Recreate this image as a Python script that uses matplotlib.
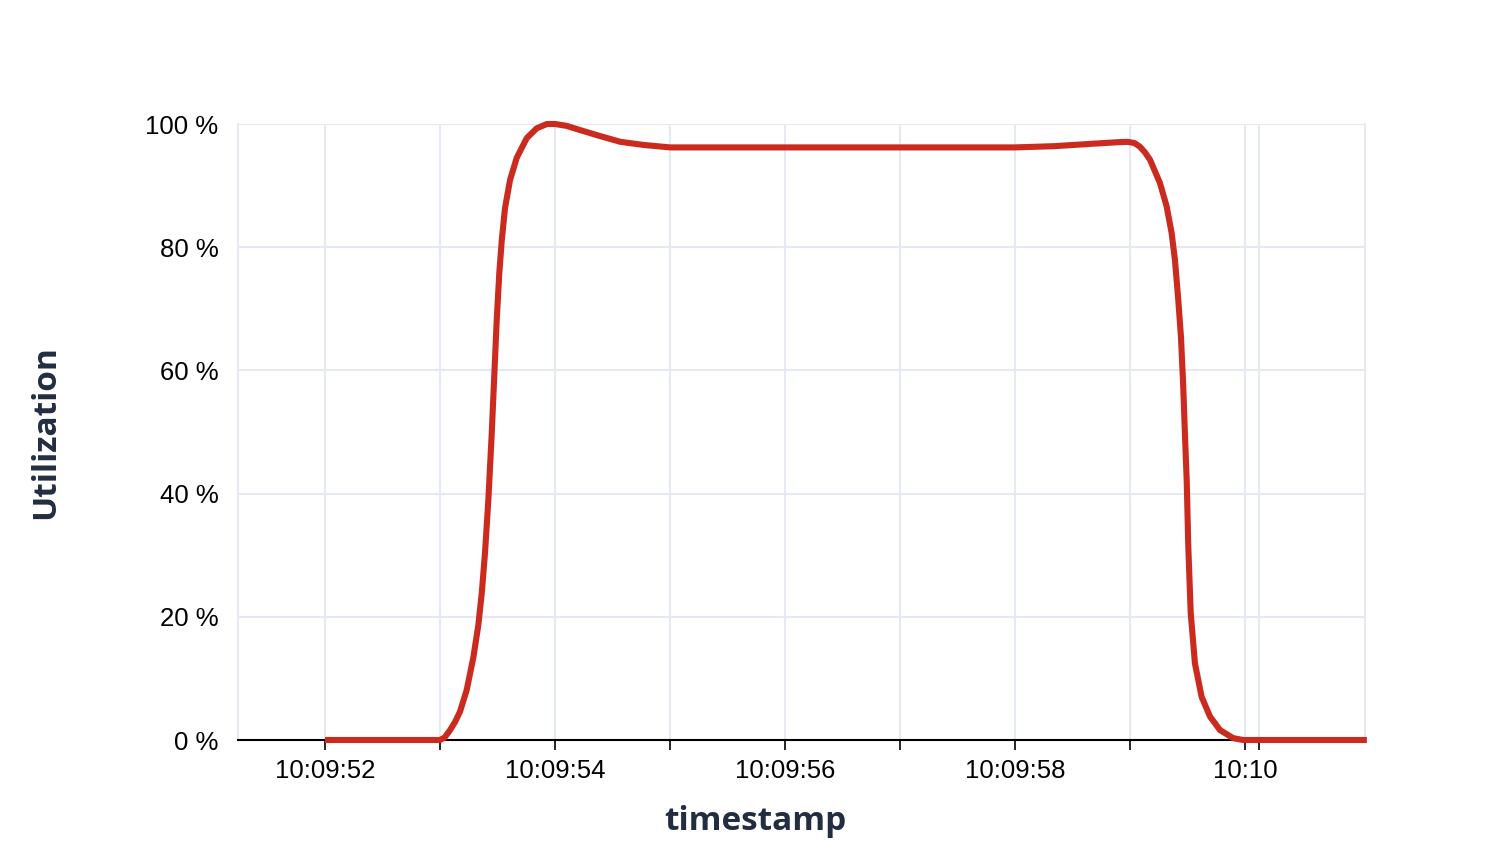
import matplotlib
matplotlib.use('Agg')
import matplotlib.pyplot as plt

# 시간축: 10:09:00 기준 초 (60 이상은 10:10)
time_sec = [52.0, 53.0, 53.04, 53.087, 53.13, 53.174, 53.232, 53.29, 53.333, 53.363,
            53.391, 53.42, 53.45, 53.47, 53.493, 53.516, 53.537, 53.565, 53.609,
            53.667, 53.754, 53.841, 53.93, 54.0, 54.1, 54.22, 54.40, 54.57, 54.77,
            55.0, 56.0, 57.0, 58.0, 58.34, 58.68, 58.9, 58.98, 59.04, 59.087,
            59.13, 59.174, 59.261, 59.319, 59.362, 59.391, 59.42, 59.443, 59.463,
            59.478, 59.493, 59.507, 59.528, 59.565, 59.623, 59.696, 59.783,
            59.898, 59.983, 61.06]
util_pct = [0, 0, 0.4, 1.6, 2.9, 4.6, 8.1, 13.4, 18.6, 23.8,
            30.3, 38.8, 49.8, 58.3, 68.1, 75.9, 81.1, 86.3, 90.9,
            94.5, 97.7, 99.3, 100, 100, 99.7, 99.0, 98.0, 97.1, 96.6,
            96.2, 96.2, 96.2, 96.2, 96.4, 96.8, 97.05, 97.1, 96.9, 96.3,
            95.4, 94.2, 90.4, 86.6, 82.3, 77.9, 71.4, 65.5, 57.4,
            49.5, 42.2, 31.4, 20.6, 12.4, 7.0, 3.8, 1.6,
            0.3, 0, 0]

major_ticks = [52, 54, 56, 58, 60]
major_labels = ['10:09:52', '10:09:54', '10:09:56', '10:09:58', '10:10']
minor_ticks = [53, 55, 57, 59, 60.124]
y_ticks = [0, 20, 40, 60, 80, 100]

grid_color = '#E6E9F3'
title_color = '#232D42'

fig = plt.figure(figsize=(15.06, 8.64), dpi=100)
ax = fig.add_axes([238 / 1506, 1 - 740 / 864, (1365 - 238) / 1506, (740 - 124) / 864])

ax.plot(time_sec, util_pct, color='#CB2B1F', lw=4.4, solid_capstyle='butt',
        solid_joinstyle='round', clip_on=False, zorder=5)

ax.set_xlim(51.2435, 61.0435)
ax.set_ylim(0, 100)

ax.set_xticks(major_ticks)
ax.set_xticklabels(major_labels, fontfamily='Liberation Sans', fontsize=18.5)
ax.set_xticks(minor_ticks, minor=True)
ax.tick_params(axis='x', which='both', direction='out', length=7, width=1.2,
               color='black', pad=7)
ax.set_yticks(y_ticks)
ax.set_yticklabels([f'{v} %' for v in y_ticks], fontfamily='Liberation Sans', fontsize=18.5)
ax.tick_params(axis='y', length=0, pad=14)

ax.grid(True, which='both', axis='x', color=grid_color, lw=1.5)
ax.grid(True, which='major', axis='y', color=grid_color, lw=1.5)
ax.set_axisbelow(True)

for side in ['left', 'right']:
    ax.spines[side].set_color(grid_color)
    ax.spines[side].set_linewidth(1.5)
ax.spines['top'].set_visible(False)
ax.spines['bottom'].set_color('black')
ax.spines['bottom'].set_linewidth(1.5)

fig.text(755 / 1506, 1 - 822 / 864, 'timestamp', ha='center', va='center',
         fontfamily='Open Sans', fontweight='bold', fontsize=24, color=title_color)
fig.text(46 / 1506, 1 - 432 / 864, 'Utilization', ha='center', va='center', rotation=90,
         fontfamily='Open Sans', fontweight='bold', fontsize=24, color=title_color)

fig.savefig('out.png', dpi=100)
